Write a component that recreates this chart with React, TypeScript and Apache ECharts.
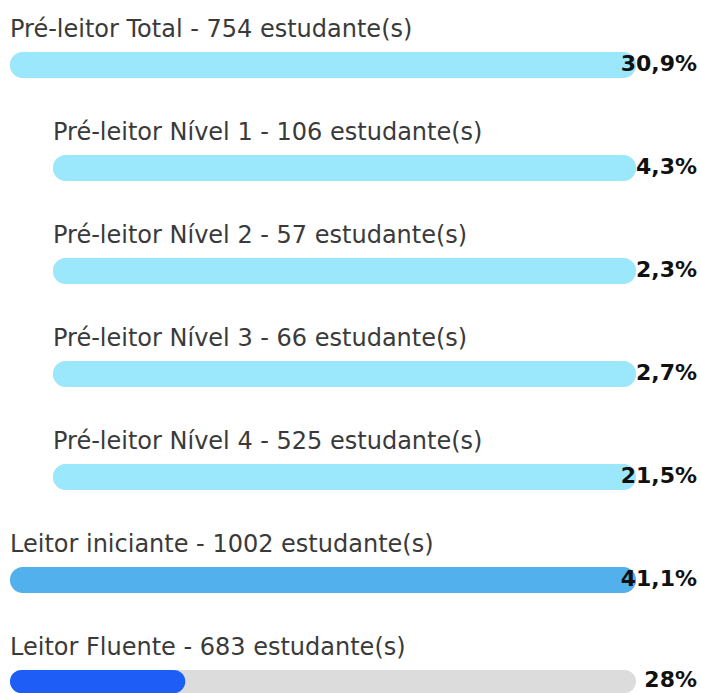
import React, { useEffect, useRef } from "react";
import * as echarts from "echarts";

// ---- data ----
const categories = [
  "Pré-leitor Total",
  "Pré-leitor Nível 1",
  "Pré-leitor Nível 2",
  "Pré-leitor Nível 3",
  "Pré-leitor Nível 4",
  "Leitor iniciante",
  "Leitor Fluente",
];
const students = [754, 106, 57, 66, 525, 1002, 683];
const percentLabels = ["30,9%", "4,3%", "2,3%", "2,7%", "21,5%", "41,1%", "28%"];
// drawn fill length of each bar (share of the full track, 0-100)
const fillValues = [100, 100, 100, 100, 100, 100, 28];
const trackValues = [100, 100, 100, 100, 100, 100, 100];

// ---- styles ----
const fillColors = ["#9BE8FC", "#9BE8FC", "#9BE8FC", "#9BE8FC", "#9BE8FC", "#52B0EC", "#1E5EF6"];
const indented = [false, true, true, true, true, false, false];

export default function App() {
  const ref = useRef<HTMLDivElement>(null);
  useEffect(() => {
    document.body.style.margin = "0";
    const chart = echarts.init(ref.current!, null, { renderer: "svg" });
    const grid: any[] = [];
    const xAxis: any[] = [];
    const yAxis: any[] = [];
    const series: any[] = [];
    const barH = 26;
    categories.forEach((cat, i) => {
      grid.push({
        left: indented[i] ? 53 : 10,
        right: 65,
        top: 52 + i * 103,
        height: barH,
      });
      xAxis.push({ type: "value", min: 0, max: 100, show: false, gridIndex: i });
      yAxis.push({ type: "category", data: [cat], show: false, gridIndex: i });
      series.push({
        type: "bar",
        xAxisIndex: i,
        yAxisIndex: i,
        barWidth: barH,
        silent: true,
        data: [trackValues[i]],
        itemStyle: { color: "#DCDCDC", borderRadius: barH / 2 },
        label: {
          show: true,
          formatter: `${cat} - ${students[i]} estudante(s)`,
          position: [0, -23],
          align: "left",
          verticalAlign: "middle",
          fontSize: 24,
          fontFamily: "DejaVu Sans",
          color: "#3a3a3a",
        },
      });
      series.push({
        type: "bar",
        xAxisIndex: i,
        yAxisIndex: i,
        barWidth: barH,
        barGap: "-100%",
        silent: true,
        data: [fillValues[i]],
        itemStyle: { color: fillColors[i], borderRadius: barH / 2 },
      });
      series.push({
        type: "bar",
        xAxisIndex: i,
        yAxisIndex: i,
        barWidth: barH,
        barGap: "-100%",
        silent: true,
        data: [trackValues[i]],
        itemStyle: { color: "rgba(0,0,0,0)" },
        label: {
          show: true,
          formatter: percentLabels[i],
          position: ["100%", "50%"],
          offset: [61, -2],
          align: "right",
          verticalAlign: "middle",
          fontSize: 22,
          fontWeight: "bold",
          fontFamily: "DejaVu Sans",
          color: "#111111",
        },
      });
    });
    chart.setOption({
      animation: false,
      backgroundColor: "#ffffff",
      grid,
      xAxis,
      yAxis,
      series,
    });
    return () => chart.dispose();
  }, []);
  return <div ref={ref} style={{ width: 701, height: 693 }} />;
}
